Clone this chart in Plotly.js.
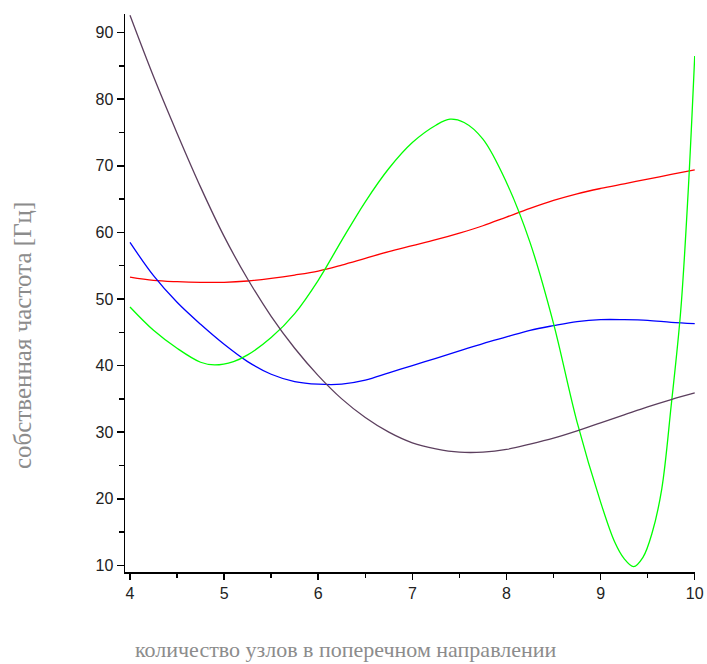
<!DOCTYPE html>
<html>
<head>
<meta charset="utf-8">
<script src="https://cdn.plot.ly/plotly-3.0.1.min.js"></script>
<style>html,body{margin:0;padding:0;background:#fff;}#chart{width:707px;height:664px;}</style>
</head>
<body>
<div id="chart"></div>
<script>
// x values (number of nodes)
const xGrid = [4.0,4.25,4.5,4.75,5.0,5.25,5.5,5.75,6.0,6.25,6.5,6.75,7.0,7.25,7.5,7.75,8.0,8.25,8.5,8.75,9.0,9.25,9.5,9.75,10.0];

const redY = [53.3,52.8,52.6,52.5,52.5,52.7,53.1,53.6,54.2,55.1,56.1,57.1,58.0,58.9,59.9,61.0,62.3,63.6,64.8,65.8,66.6,67.3,68.0,68.7,69.4];
const blueY = [58.5,53.5,49.5,46.2,43.2,40.6,38.7,37.6,37.2,37.2,37.8,38.9,40.0,41.1,42.2,43.3,44.3,45.3,46.0,46.6,46.9,46.9,46.8,46.5,46.3];
const purpleY = [92.6,83.4,74.9,66.8,59.4,53.0,47.4,42.6,38.5,35.0,32.2,30.0,28.4,27.5,27.0,27.0,27.4,28.2,29.1,30.2,31.4,32.6,33.8,34.9,35.9];

const greenX = [4.0,4.25,4.5,4.75,4.9,5.1,5.25,5.5,5.75,6.0,6.25,6.5,6.75,7.0,7.25,7.4,7.55,7.75,8.0,8.25,8.5,8.75,9.0,9.15,9.25,9.35,9.45,9.55,9.65,9.75,9.85,9.93,10.0];
const greenY = [48.8,45.3,42.6,40.5,40.1,40.6,41.6,44.2,47.8,52.8,58.8,64.6,69.6,73.5,76.1,77.0,76.5,74.0,67.5,58.5,46.3,31.5,19.5,13.5,11.0,9.8,11.2,15.0,21.5,34.0,48.0,66.0,86.5];

const xTitle = 'количество узлов в поперечном направлении';
const yTitle = 'собственная частота [Гц]';

function tr(x, y, color) {
  return {x: x, y: y, type: 'scatter', mode: 'lines',
    line: {color: color, width: 1.3, shape: 'spline', smoothing: 1},
    hoverinfo: 'none', showlegend: false};
}

const data = [
  tr(xGrid, redY, '#ff0000'),
  tr(xGrid, blueY, '#0000ff'),
  tr(greenX, greenY, '#00ff00'),
  tr(xGrid, purpleY, '#5c3f5e')
];

const tickFont = {family: 'Liberation Sans, Arial, sans-serif', size: 16, color: '#222'};
const xTitleFont = {family: 'Liberation Serif, Times New Roman, serif', size: 22, color: '#8c8c8c'};
const yTitleFont = {family: 'Liberation Serif, Times New Roman, serif', size: 25, color: '#8c8c8c'};

const layout = {
  width: 707, height: 664,
  margin: {l: 125, r: 12, t: 14, b: 92},
  paper_bgcolor: '#fff', plot_bgcolor: '#fff',
  xaxis: {
    range: [3.947, 10.003], tick0: 4, dtick: 1,
    showgrid: false, zeroline: false,
    showline: true, linecolor: '#000', linewidth: 1.5,
    ticks: 'outside', ticklen: 6, tickwidth: 1.5, tickcolor: '#000',
    tickfont: tickFont,
    minor: {dtick: 0.5, ticks: 'outside', ticklen: 4, tickwidth: 1.5, tickcolor: '#000', showgrid: false}
  },
  yaxis: {
    range: [9.0, 92.8], tick0: 10, dtick: 10,
    showgrid: false, zeroline: false,
    showline: true, linecolor: '#000', linewidth: 1.5,
    ticks: 'outside', ticklen: 7, tickwidth: 1.5, tickcolor: '#000',
    tickfont: tickFont,
    minor: {dtick: 5, ticks: 'outside', ticklen: 5, tickwidth: 1.5, tickcolor: '#000', showgrid: false}
  },
  annotations: [
    {text: xTitle, xref: 'paper', yref: 'paper', x: 0, y: 0, xanchor: 'center', yanchor: 'middle', showarrow: false, font: xTitleFont},
    {text: yTitle, xref: 'paper', yref: 'paper', x: 0, y: 0, xanchor: 'center', yanchor: 'middle', textangle: -90, showarrow: false, font: yTitleFont}
  ]
};

// position the axis titles relative to full figure
(function () {
  const pw = 707 - 125 - 12, ph = 664 - 14 - 92;
  layout.annotations[0].x = (345.5 - 125) / pw;
  layout.annotations[0].y = (572 - 649) / ph;
  layout.annotations[1].x = (22 - 125) / pw;
  layout.annotations[1].y = (572 - 336) / ph;
})();

Plotly.newPlot('chart', data, layout, {staticPlot: true, displayModeBar: false});
</script>
</body>
</html>
